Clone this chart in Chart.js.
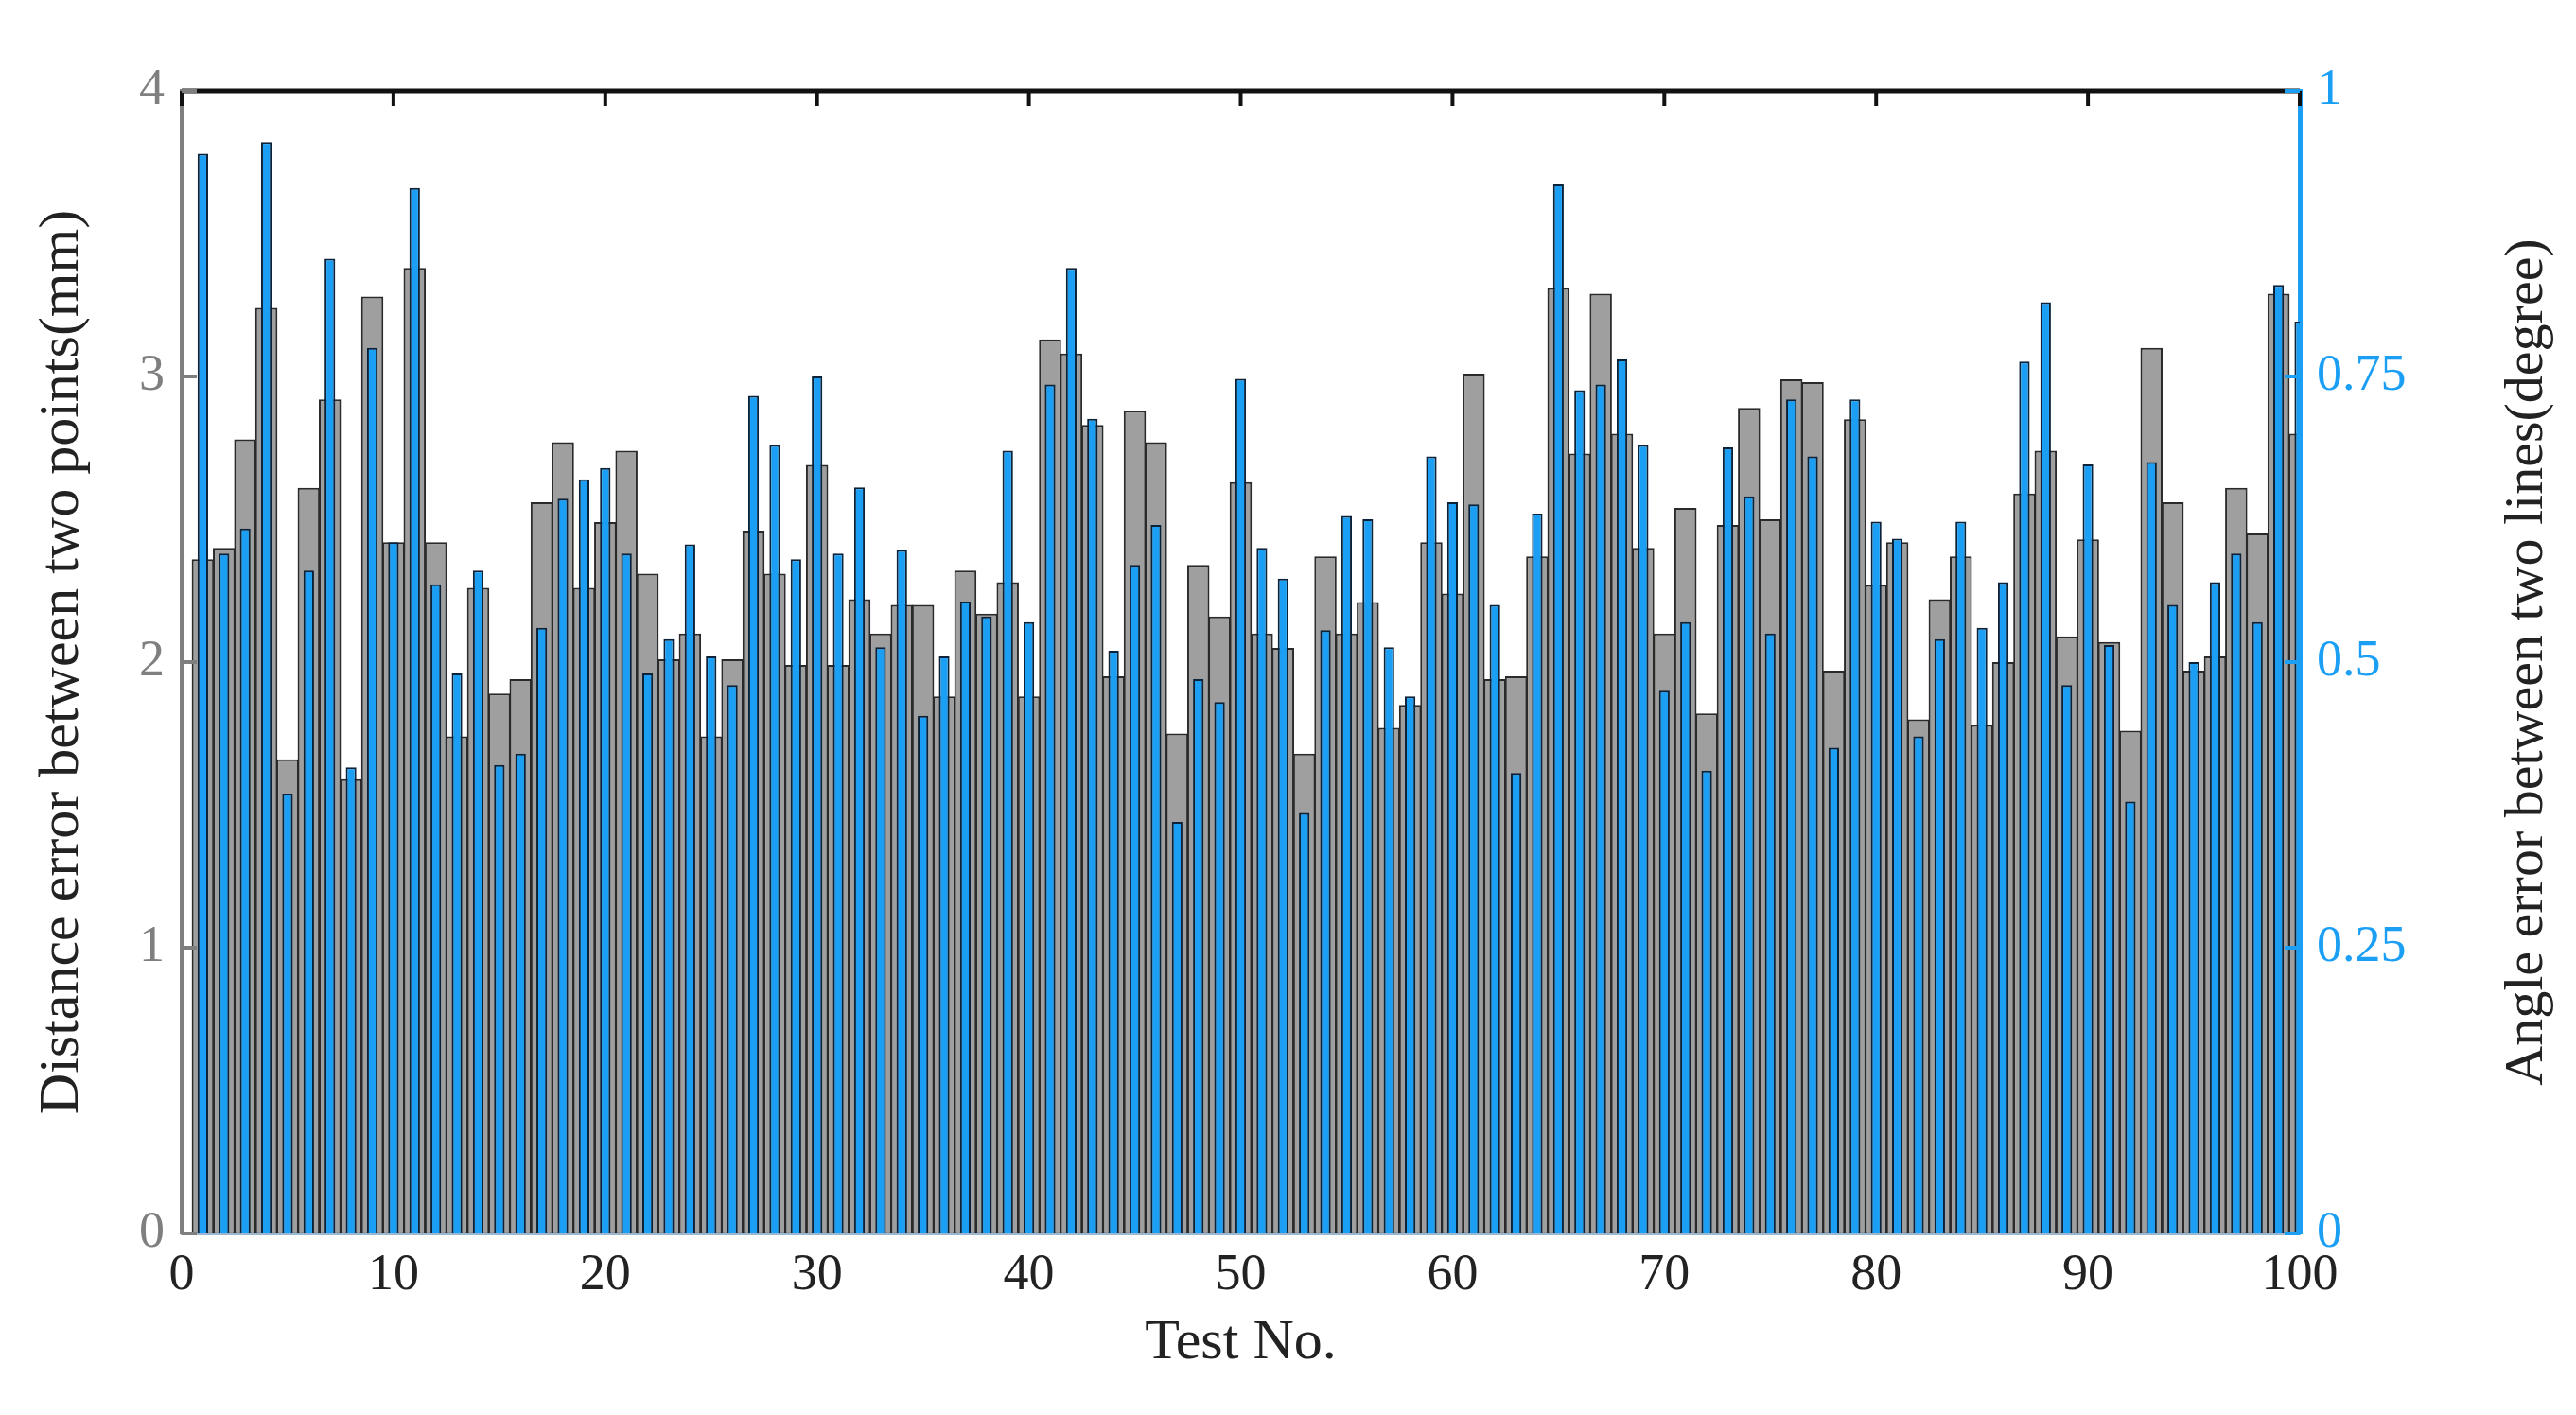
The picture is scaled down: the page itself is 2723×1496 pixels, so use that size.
<!DOCTYPE html>
<html>
<head>
<meta charset="utf-8">
<script src="https://cdn.jsdelivr.net/npm/chart.js@4"></script>
<style>
  body { margin: 0; background: #fff; }
  canvas { display: block; }
</style>
</head>
<body>
<canvas id="chart" width="2723" height="1496"></canvas>
<script>
// Test numbers 1..100
const testNo = [
  1,2,3,4,5,6,7,8,9,10,11,12,13,14,15,16,17,18,19,20,
  21,22,23,24,25,26,27,28,29,30,31,32,33,34,35,36,37,38,39,40,
  41,42,43,44,45,46,47,48,49,50,51,52,53,54,55,56,57,58,59,60,
  61,62,63,64,65,66,67,68,69,70,71,72,73,74,75,76,77,78,79,80,
  81,82,83,84,85,86,87,88,89,90,91,92,93,94,95,96,97,98,99,100
];

// Distance error between two points (mm) - grey bars
const distErr = [
  2.36,2.40,2.78,3.24,1.66,2.61,2.92,1.59,3.28,2.42,
  3.38,2.42,1.74,2.26,1.89,1.94,2.56,2.77,2.26,2.49,
  2.74,2.31,2.01,2.10,1.74,2.01,2.46,2.31,1.99,2.69,
  1.99,2.22,2.10,2.20,2.20,1.88,2.32,2.17,2.28,1.88,
  3.13,3.08,2.83,1.95,2.88,2.77,1.75,2.34,2.16,2.63,
  2.10,2.05,1.68,2.37,2.10,2.21,1.77,1.85,2.42,2.24,
  3.01,1.94,1.95,2.37,3.31,2.73,3.29,2.80,2.40,2.10,
  2.54,1.82,2.48,2.89,2.50,2.99,2.98,1.97,2.85,2.27,
  2.42,1.80,2.22,2.37,1.78,2.00,2.59,2.74,2.09,2.43,
  2.07,1.76,3.10,2.56,1.97,2.02,2.61,2.45,3.29,2.80
];

// Angle error between two lines (degree) - blue bars
const angleErr = [
  0.945,0.595,0.617,0.955,0.385,0.580,0.853,0.408,0.775,0.605,
  0.915,0.568,0.490,0.580,0.410,0.420,0.530,0.643,0.660,0.670,
  0.595,0.490,0.520,0.603,0.505,0.480,0.733,0.690,0.590,0.750,
  0.595,0.653,0.513,0.598,0.453,0.505,0.553,0.540,0.685,0.535,
  0.743,0.845,0.713,0.510,0.585,0.620,0.360,0.485,0.465,0.748,
  0.600,0.573,0.368,0.528,0.628,0.625,0.513,0.470,0.680,0.640,
  0.638,0.550,0.403,0.630,0.918,0.738,0.743,0.765,0.690,0.475,
  0.535,0.405,0.688,0.645,0.525,0.730,0.680,0.425,0.730,0.623,
  0.608,0.435,0.520,0.623,0.530,0.570,0.763,0.815,0.480,0.673,
  0.515,0.378,0.675,0.550,0.500,0.570,0.595,0.535,0.830,0.798
];

const xTicks = [0,10,20,30,40,50,60,70,80,90,100];
const leftTicks = [0,1,2,3,4];
const rightTicks = [0,0.25,0.5,0.75,1];

const FONT = '"Liberation Serif", "DejaVu Serif", serif';
const BLUE = '#1a9ff5';
const GREY_TXT = '#7f7f7f';
const RIGHT_TITLE = 'Angle error between two lines(degree)';

// top frame line, inward ticks, and right title read bottom-to-top
const frame = {
  id: 'frame',
  afterDraw(chart) {
    const { ctx, chartArea: a, scales } = chart;
    ctx.save();
    ctx.strokeStyle = '#111';
    ctx.lineWidth = 5;
    ctx.beginPath();
    ctx.moveTo(a.left, a.top);
    ctx.lineTo(a.right, a.top);
    ctx.stroke();
    ctx.lineWidth = 4;
    xTicks.forEach(v => {
      const px = scales.x.getPixelForValue(v);
      ctx.beginPath();
      ctx.moveTo(px, a.top);
      ctx.lineTo(px, a.top + 16);
      ctx.stroke();
    });
    ctx.strokeStyle = GREY_TXT;
    leftTicks.forEach(v => {
      const py = scales.y.getPixelForValue(v);
      ctx.beginPath();
      ctx.moveTo(a.left, py);
      ctx.lineTo(a.left + 16, py);
      ctx.stroke();
    });
    ctx.strokeStyle = BLUE;
    rightTicks.forEach(v => {
      const py = scales.y2.getPixelForValue(v);
      ctx.beginPath();
      ctx.moveTo(a.right, py);
      ctx.lineTo(a.right - 16, py);
      ctx.stroke();
    });
    ctx.translate(2672, (a.top + a.bottom) / 2);
    ctx.rotate(-Math.PI / 2);
    ctx.font = '58px ' + FONT;
    ctx.fillStyle = '#222';
    ctx.textAlign = 'center';
    ctx.textBaseline = 'middle';
    ctx.fillText(RIGHT_TITLE, 0, 0);
    ctx.restore();
  }
};

new Chart(document.getElementById('chart'), {
  type: 'bar',
  data: {
    datasets: [
      {
        label: 'Angle error',
        data: testNo.map((t, i) => ({ x: t, y: angleErr[i] })),
        yAxisID: 'y2',
        backgroundColor: BLUE,
        borderColor: '#0b2238',
        borderWidth: 2,
        grouped: false,
        barPercentage: 0.5,
        categoryPercentage: 1
      },
      {
        label: 'Distance error',
        data: testNo.map((t, i) => ({ x: t, y: distErr[i] })),
        yAxisID: 'y',
        backgroundColor: 'rgba(135,135,135,0.8)',
        borderColor: '#2a2a2a',
        borderWidth: 2,
        grouped: false,
        barPercentage: 1.05,
        categoryPercentage: 1
      }
    ]
  },
  options: {
    responsive: false,
    devicePixelRatio: 1,
    animation: false,
    layout: { padding: { top: 96, left: 0, right: 0, bottom: 0 } },
    plugins: { legend: { display: false }, tooltip: { enabled: false } },
    scales: {
      x: {
        type: 'linear',
        offset: false,
        min: 0, max: 100,
        afterFit: s => { s.height = 192; },
        afterBuildTicks: s => { s.ticks = xTicks.map(v => ({ value: v })); },
        grid: { display: false, drawTicks: false, offset: false },
        border: { display: true, color: '#9bb7d0', width: 3 },
        ticks: { font: { family: FONT, size: 54 }, color: '#222', padding: 12, maxRotation: 0, callback: v => String(v) },
        title: { display: true, text: 'Test No.', font: { family: FONT, size: 60 }, color: '#222', padding: { top: 0, bottom: 40 } }
      },
      y: {
        position: 'left',
        min: 0, max: 4,
        afterFit: s => { s.width = 192; },
        afterBuildTicks: s => { s.ticks = leftTicks.map(v => ({ value: v })); },
        grid: { display: false, drawTicks: false },
        border: { display: true, color: GREY_TXT, width: 5 },
        ticks: { font: { family: FONT, size: 54 }, color: GREY_TXT, padding: 18, callback: v => String(v) },
        title: { display: true, text: 'Distance error between two points(mm)', font: { family: FONT, size: 60 }, color: '#222', padding: { top: 30, bottom: 0 } }
      },
      y2: {
        position: 'right',
        min: 0, max: 1,
        afterFit: s => { s.width = 292; },
        afterBuildTicks: s => { s.ticks = rightTicks.map(v => ({ value: v })); },
        grid: { display: false, drawTicks: false },
        border: { display: true, color: BLUE, width: 5 },
        ticks: { font: { family: FONT, size: 54 }, color: BLUE, padding: 18, callback: v => String(v) },
        title: { display: false }
      }
    }
  },
  plugins: [frame]
});
</script>
</body>
</html>
